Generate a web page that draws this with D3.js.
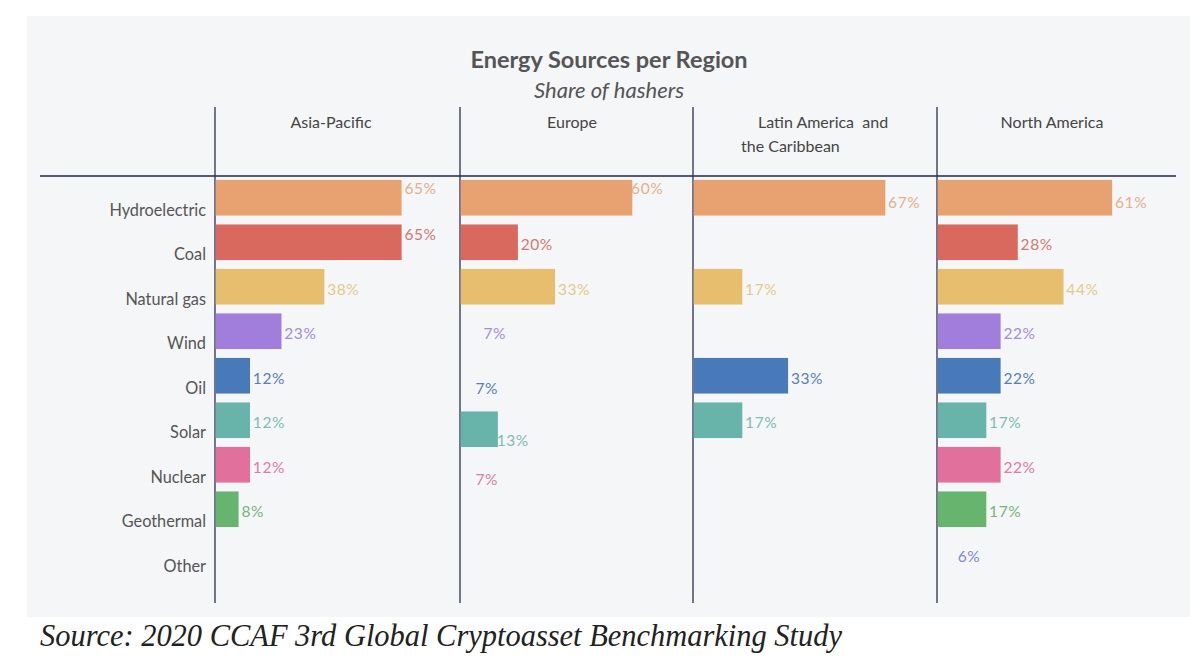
<!DOCTYPE html>
<html><head><meta charset="utf-8">
<script src="https://cdn.jsdelivr.net/npm/d3@7"></script>
<style>body{margin:0;background:#fff}svg{display:block}</style>
</head><body>
<svg id="chart" width="1200" height="662"></svg>
<script>
// ---- data ----
const regions = ["Asia-Pacific", "Europe", "Latin America  and|the Caribbean", "North America"];
const sources = ["Hydroelectric", "Coal", "Natural gas", "Wind", "Oil", "Solar", "Nuclear", "Geothermal", "Other"];
const asiaPacific  = [65, 65, 38, 23, 12, 12, 12, 8, null];
const europe       = [60, 20, 33, 7, 7, 13, 7, null, null];
const latinAmerica = [67, null, 17, null, 33, 17, null, null, null];
const northAmerica = [61, 28, 44, 22, 22, 17, 22, 17, 6];
const seriesByRegion = [asiaPacific, europe, latinAmerica, northAmerica];
// bars that show no fill in the reference (label only)
const labelOnly = ["Europe|Wind", "Europe|Oil", "Europe|Nuclear", "North America|Other"];

// ---- styles ----
const barColors = {
  "Hydroelectric": "#E8A272", "Coal": "#D9685F", "Natural gas": "#E6BE6E", "Wind": "#A17DDC",
  "Oil": "#4879B8", "Solar": "#68B4AA", "Nuclear": "#E1709C", "Geothermal": "#67B46F", "Other": "#7f8bd0"
};
const labelColors = {
  "Hydroelectric": "#E3B08B", "Coal": "#D6776F", "Natural gas": "#E6C88A", "Wind": "#A48CD8",
  "Oil": "#587EB5", "Solar": "#7DBCB2", "Nuclear": "#DF7BA2", "Geothermal": "#74B57B", "Other": "#7f8bd0"
};
// per-cell label nudges [dx, dy] and bar shift (layout tweaks)
const labelNudge = {
  "Asia-Pacific|Hydroelectric": [0, -11.5], "Asia-Pacific|Coal": [0, -10.5],
  "Europe|Hydroelectric": [-4, -11.5], "Europe|Oil": [-8, 10], "Europe|Nuclear": [-8, 12],
  "Europe|Solar": [-4, 18], "Latin America|Hydroelectric": [0, 2], "North America|Hydroelectric": [0, 2]
};
const barShift = {"Europe|Solar": 9};

const svg = d3.select("#chart");
const font = "Lato, 'Open Sans', sans-serif";

// background panel
svg.append("rect").attr("x", 27).attr("y", 16).attr("width", 1163).attr("height", 601).attr("fill", "#f5f6f8");

// titles
svg.append("text").attr("x", 609).attr("y", 68).attr("text-anchor", "middle")
  .attr("font-family", font).attr("font-weight", "bold").attr("font-size", 23.5).attr("fill", "#555")
  .text("Energy Sources per Region");
svg.append("text").attr("x", 609).attr("y", 98).attr("text-anchor", "middle")
  .attr("font-family", font).attr("font-style", "italic").attr("font-size", 22).attr("fill", "#555")
  .text("Share of hashers");

// scales
const panelX = d3.scaleOrdinal().domain(regions).range([215, 460, 693, 937]);
const x = d3.scaleLinear().domain([0, 100]).range([0, 286]);
const y = d3.scaleBand().domain(sources).range([175.5, 576]).paddingInner(0.2).paddingOuter(0.1);

// header text
const headerCenters = [331, 572, null, 1052];
const hdrSize = 16;
regions.forEach((r, i) => {
  const parts = r.split("|");
  if (parts.length === 1) {
    svg.append("text").attr("x", headerCenters[i]).attr("y", 128).attr("text-anchor", "middle")
      .attr("font-family", font).attr("font-size", hdrSize).attr("fill", "#444").text(parts[0]);
  } else {
    svg.append("text").attr("x", 758).attr("y", 128)
      .attr("font-family", font).attr("font-size", hdrSize).attr("fill", "#444").attr("xml:space", "preserve").text(parts[0]);
    svg.append("text").attr("x", 741).attr("y", 152)
      .attr("font-family", font).attr("font-size", hdrSize).attr("fill", "#444").text(parts[1]);
  }
});

// grid lines
svg.append("line").attr("x1", 40).attr("x2", 1176).attr("y1", 176).attr("y2", 176)
  .attr("stroke", "#1f2747").attr("stroke-width", 1.3);
regions.forEach(r => {
  svg.append("line").attr("x1", panelX(r)).attr("x2", panelX(r)).attr("y1", 107).attr("y2", 603)
    .attr("stroke", "#2a3150").attr("stroke-width", 1.3);
});

// category labels
svg.append("g").selectAll("text").data(sources).join("text")
  .attr("x", 206).attr("y", d => y(d) + y.bandwidth() / 2 + 14)
  .attr("dominant-baseline", "middle").attr("text-anchor", "end")
  .attr("font-family", font).attr("font-size", 16.3).attr("fill", "#555").text(d => d);

// bars and labels
regions.forEach((r, ri) => {
  const regKey = r.split("|")[0].replace("  and", "").trim();
  const cells = sources.map((s, si) => ({source: s, value: seriesByRegion[ri][si], key: regKey + "|" + s}))
    .filter(d => d.value != null);
  const g = svg.append("g");
  g.selectAll("rect").data(cells).join("rect")
    .attr("x", panelX(r) + 0.7)
    .attr("y", d => y(d.source) + (barShift[d.key] || 0))
    .attr("width", d => x(d.value))
    .attr("height", y.bandwidth())
    .attr("fill", d => barColors[d.source])
    .attr("fill-opacity", d => labelOnly.includes(d.key) ? 0 : 1);
  g.selectAll("text").data(cells).join("text")
    .attr("x", d => panelX(r) + x(d.value) + 3.5 + (labelNudge[d.key] ? labelNudge[d.key][0] : 0))
    .attr("y", d => y(d.source) + y.bandwidth() / 2 + 4 + (labelNudge[d.key] ? labelNudge[d.key][1] : 0))
    .attr("dominant-baseline", "middle")
    .attr("font-family", font).attr("font-size", 15.5).attr("letter-spacing", 0.6)
    .attr("fill", d => labelColors[d.source])
    .text(d => d.value + "%");
});

// source note
svg.append("text").attr("x", 40).attr("y", 646)
  .attr("font-family", "'Liberation Serif', 'DejaVu Serif', serif").attr("font-style", "italic")
  .attr("font-size", 31).attr("fill", "#222")
  .attr("textLength", 802).attr("lengthAdjust", "spacingAndGlyphs")
  .text("Source: 2020 CCAF 3rd Global Cryptoasset Benchmarking Study");
</script>
</body></html>
